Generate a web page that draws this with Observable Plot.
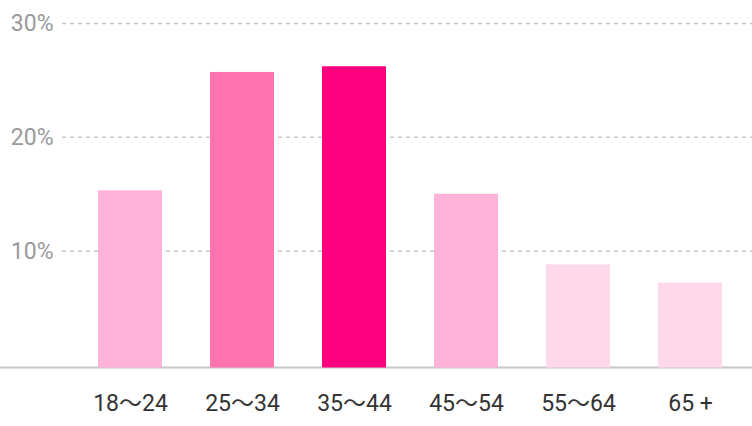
<!DOCTYPE html>
<html>
<head>
<meta charset="utf-8">
<script src="https://cdn.jsdelivr.net/npm/d3@7"></script>
<script src="https://cdn.jsdelivr.net/npm/@observablehq/plot@0.6"></script>
<style>
  html, body { margin: 0; padding: 0; background: #fff; }
</style>
</head>
<body>
<div id="chart"></div>
<script>
const categories = ["18〜24", "25〜34", "35〜44", "45〜54", "55〜64", "65 +"];
const values = [15.3, 25.7, 26.2, 15.0, 8.8, 7.2];
const colors = ["#ffb3d8", "#ff73ae", "#ff007f", "#ffb3d8", "#ffd9ea", "#ffd9ea"];
const yTicks = [10, 20, 30];

const data = categories.map((c, i) => ({ category: c, value: values[i], color: colors[i] }));

const chart = Plot.plot({
  width: 752,
  height: 426,
  marginTop: 23,
  marginBottom: 61.5,
  marginLeft: 74,
  marginRight: 6,
  style: { fontFamily: "Roboto, 'Noto Sans CJK JP', sans-serif", background: "#fff" },
  x: { domain: categories, paddingInner: 0.4286, paddingOuter: 0.2143, axis: null, label: null },
  y: { domain: [0, 30], axis: null, label: null },
  marks: [
    Plot.ruleY(yTicks, { stroke: "#c8c8c8", strokeWidth: 1.5, strokeDasharray: "4,4", insetLeft: -12, insetRight: -6 }),
    Plot.ruleY([0], { stroke: "#c8c8c8", strokeWidth: 2, dy: 2.5, insetLeft: -74, insetRight: -6 }),
    Plot.barY(data, { x: "category", y: "value", fill: "color", insetBottom: -3 }),
    Plot.axisX(categories, { tickSize: 0, tickPadding: 30, fontSize: 23, color: "#333", label: null }),
    Plot.axisY(yTicks, { tickSize: 0, tickPadding: 21, fontSize: 23, color: "#9a9a9a", label: null, tickFormat: d => d + "%" })
  ]
});
document.getElementById("chart").append(chart);
</script>
</body>
</html>
